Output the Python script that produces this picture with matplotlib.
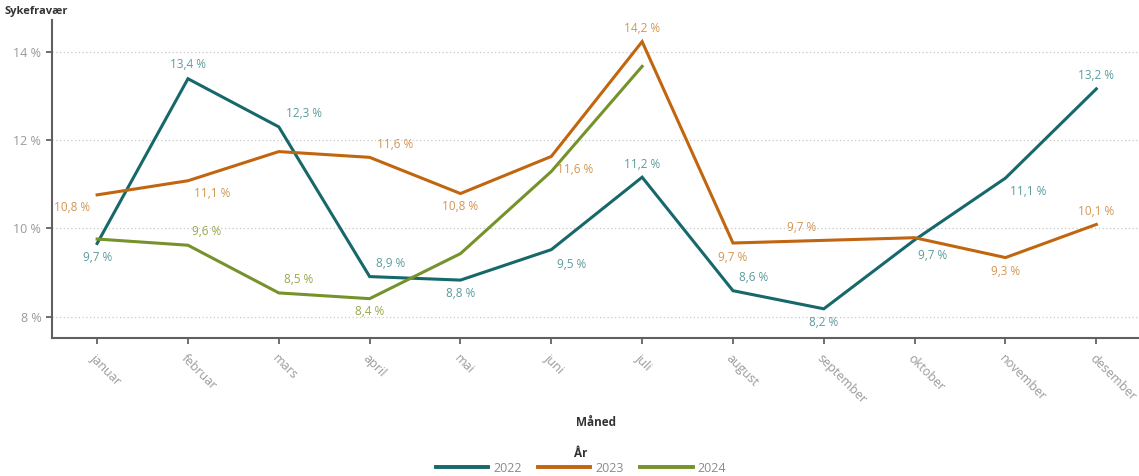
import matplotlib.pyplot as plt

# Months on the x axis
months = ["januar", "februar", "mars", "april", "mai", "juni",
          "juli", "august", "september", "oktober", "november", "desember"]

# Sick leave (%) per year
y2022 = [9.66, 13.39, 12.30, 8.91, 8.83, 9.52, 11.16, 8.59, 8.18, 9.74, 11.14, 13.16]
y2023 = [10.76, 11.08, 11.74, 11.61, 10.79, 11.63, 14.23, 9.67, 9.73, 9.79, 9.34, 10.09]
y2024 = [9.76, 9.62, 8.54, 8.41, 9.43, 11.29, 13.67]

years = ["2022", "2023", "2024"]
yticks = [8, 10, 12, 14]


def main():
    plt.rcParams['font.family'] = ['Open Sans', 'DejaVu Sans']

    fig = plt.figure(figsize=(11.39, 4.76), dpi=100)
    ax = fig.add_axes([0.0454, 0.29, 0.9546, 0.668])

    line_colors = ["#17686b", "#c1650f", "#76922b"]
    label_colors = ["#5b9b9d", "#d39553", "#9ba54a"]

    # label offsets in pixels (dx, dy), None = label hidden in original
    offsets = [
        [(0, -14), (0, 14), (25, 13), (21, 13), (0, -13), (20, -15),
         (0, 13), (21, 13), (0, -14), (18, -16), (23, -13), (0, 13)],
        [(-25, -13), (24, -13), None, (25, 13), (0, -13), (24, -13),
         (0, 13), (0, -14), (-22, 13), None, (0, -14), (0, 13)],
        [None, (19, 14), (20, 13), (0, -13), None, None, None],
    ]

    series = [y2022, y2023, y2024]
    for vals, name, lc, tc, offs in zip(series, years, line_colors, label_colors, offsets):
        x = list(range(len(vals)))
        ax.plot(x, vals, color=lc, lw=2.2, label=name, solid_joinstyle="miter")
        for xi, v, off in zip(x, vals, offs):
            if off is None:
                continue
            txt = f"{v:.1f}".replace(".", ",") + " %"
            ax.annotate(txt, (xi, v), xytext=(off[0] * 0.72, off[1] * 0.72),
                        textcoords="offset points", ha="center", va="center",
                        fontsize=8.5, color=tc)

    ax.set_xlim(-0.5, 11.47)
    ax.set_ylim(7.52, 14.72)
    ax.set_yticks(yticks)
    ax.set_yticklabels([f"{t} %" for t in yticks])
    ax.set_xticks(range(len(months)))
    ax.set_xticklabels(months, rotation=-45, ha="left", rotation_mode="anchor")

    ax.tick_params(axis="both", colors="#555555", length=4, width=1.2,
                   labelcolor="#9a9a9a", labelsize=9)
    ax.tick_params(axis="x", pad=6)
    ax.grid(axis="y", linestyle=(0, (1, 2)), color="#c8c8c8", lw=0.9)
    ax.set_axisbelow(True)
    for s in ["top", "right"]:
        ax.spines[s].set_visible(False)
    for s in ["left", "bottom"]:
        ax.spines[s].set_color("#606060")
        ax.spines[s].set_linewidth(1.5)

    fig.text(0.004, 0.975, "Sykefravær", fontsize=8, fontweight="bold",
             color="#333333", ha="left", va="center")
    fig.text(0.523, 0.112, "Måned", fontsize=8.5, fontweight="bold",
             color="#333333", ha="center", va="center")

    leg = fig.legend(loc="lower center", bbox_to_anchor=(0.51, 0.0), ncol=3,
                     frameon=False, title="År", fontsize=9, handlelength=4.2,
                     handletextpad=0.4, columnspacing=1.3, borderaxespad=0,
                     labelspacing=0.2, borderpad=0.1)
    leg.get_title().set_fontweight("bold")
    leg.get_title().set_fontsize(8.5)
    leg.get_title().set_color("#333333")
    leg._legend_box.sep = 1
    for t in leg.get_texts():
        t.set_color("#8a8a8a")
    for h in leg.get_lines():
        h.set_linewidth(2.8)

    plt.savefig("out.png", dpi=100)


if __name__ == "__main__":
    main()
